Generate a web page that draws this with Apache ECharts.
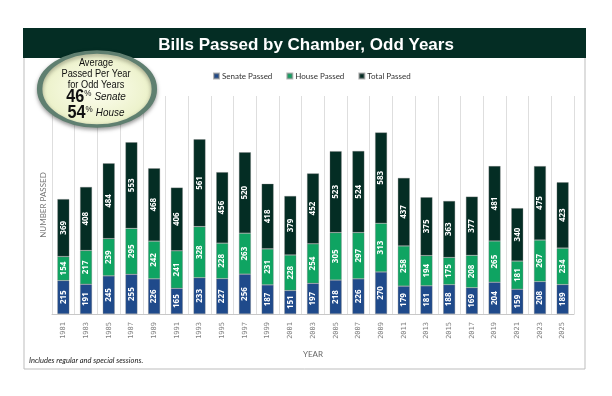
<!DOCTYPE html>
<html>
<head>
<meta charset="utf-8">
<script src="https://cdn.jsdelivr.net/npm/echarts@6/dist/echarts.min.js"></script>
<style>
  html, body { margin: 0; padding: 0; background: #fff; }
  #chart { width: 612px; height: 396px; }
</style>
</head>
<body>
<div id="chart"></div>
<script>
const years = ['1981', '1983', '1985', '1987', '1989', '1991', '1993', '1995', '1997', '1999', '2001', '2003',
  '2005', '2007', '2009', '2011', '2013', '2015', '2017', '2019', '2021', '2023', '2025'];
const senatePassed = [215, 191, 245, 255, 226, 165, 233, 227, 256, 187, 151, 197, 218, 226, 270, 179, 181, 188, 169, 204, 159, 208, 189];
const housePassed = [154, 217, 239, 295, 242, 241, 328, 228, 263, 231, 228, 254, 305, 297, 313, 258, 194, 175, 208, 265, 181, 267, 234];
const totalPassed = [369, 408, 484, 553, 468, 406, 561, 456, 520, 418, 379, 452, 523, 524, 583, 437, 375, 363, 377, 481, 340, 475, 423];
const senateShare = 46;
const houseShare = 54;

const DARK = '#042d24';
const BLUE = '#1f4a8b';
const GREEN = '#0fa462';

const chart = echarts.init(document.getElementById('chart'), null, { renderer: 'canvas' });

const barLabel = {
  show: true,
  position: 'inside',
  rotate: 90,
  color: '#fff',
  fontSize: 8,
  fontWeight: 'bold',
  fontFamily: 'Open Sans'
};

function barSeries(name, data, color) {
  return {
    name: name,
    type: 'bar',
    stack: 'all',
    barWidth: 12,
    data: data,
    itemStyle: { color: color, borderColor: 'rgba(120,120,120,0.55)', borderWidth: 0.6 },
    label: barLabel
  };
}

chart.setOption({
  animation: false,
  title: {
    text: 'Bills Passed by Chamber, Odd Years',
    left: 'center',
    top: 32,
    textStyle: { color: '#fff', fontSize: 17, fontWeight: 'bold', fontFamily: 'Liberation Sans' }
  },
  legend: {
    left: 208,
    top: 67,
    itemWidth: 5,
    itemHeight: 5,
    itemGap: 14,
    icon: 'rect',
    textStyle: { fontSize: 8, color: '#333', fontFamily: 'Lato', padding: [0, 0, 0, -2] },
    data: ['Senate Passed', 'House Passed', 'Total Passed']
  },
  grid: { left: 52, right: 38, top: 96, bottom: 82 },
  xAxis: {
    type: 'category',
    data: years,
    name: 'YEAR',
    nameLocation: 'middle',
    nameGap: 36,
    nameTextStyle: { fontSize: 8, color: '#666', fontFamily: 'Lato' },
    axisLine: { lineStyle: { color: '#c8c8c8' } },
    axisTick: { show: false },
    axisLabel: { rotate: 90, fontSize: 7, color: '#808080', fontFamily: 'DejaVu Sans Mono', margin: 8 },
    splitLine: { show: true, interval: 0, lineStyle: { color: '#dedede' } }
  },
  yAxis: {
    type: 'value',
    min: 0,
    max: 1400,
    name: 'NUMBER PASSED',
    nameLocation: 'middle',
    nameGap: 5,
    nameTextStyle: { fontSize: 8, color: '#777', fontFamily: 'Lato' },
    axisLine: { show: false },
    axisTick: { show: false },
    axisLabel: { show: false },
    splitLine: { show: false }
  },
  series: [
    barSeries('Senate Passed', senatePassed, BLUE),
    barSeries('House Passed', housePassed, GREEN),
    barSeries('Total Passed', totalPassed, DARK)
  ],
  graphic: [
    { type: 'rect', z: -10, shape: { x: 24, y: 57, width: 561, height: 312 }, style: { fill: '#fff', stroke: '#bdbdbd', lineWidth: 1 } },
    { type: 'rect', z: -5, shape: { x: 23, y: 28, width: 563, height: 30 }, style: { fill: DARK } },
    {
      type: 'text', left: 29, top: 357,
      style: { text: 'Includes regular and special sessions.', fontSize: 7.5, fontStyle: 'italic', fill: '#222', fontFamily: 'Lato' }
    },
    {
      type: 'circle', z: 20, x: 97, y: 89, scaleX: 1.55, scaleY: 1,
      shape: { cx: 0, cy: 0, r: 37 },
      style: {
        fill: { type: 'radial', x: 0.5, y: 0.5, r: 0.5, colorStops: [{ offset: 0, color: '#fdfef0' }, { offset: 1, color: '#eaf0c6' }] },
        stroke: '#5f7f70', lineWidth: 3.5,
        shadowBlur: 4, shadowColor: 'rgba(0,0,0,0.35)', shadowOffsetY: 2
      }
    },
    {
      type: 'text', z: 21, x: 96, y: 57, scaleX: 0.84,
      style: {
        text: 'Average\nPassed Per Year\nfor Odd Years',
        align: 'center', fontSize: 11, lineHeight: 11, fill: '#111', fontFamily: 'Liberation Sans'
      }
    },
    {
      type: 'text', z: 21, x: 96, y: 89, scaleX: 0.9,
      style: {
        text: '{n|' + senateShare + '}{p|%} {w|Senate}\n{n|' + houseShare + '}{p|%} {w|House}',
        align: 'center', fill: '#111',
        rich: {
          n: { fontSize: 18, fontWeight: 'bold', fontFamily: 'Liberation Sans', lineHeight: 16 },
          p: { fontSize: 9, fontFamily: 'Liberation Sans', verticalAlign: 'top', lineHeight: 16, padding: [0, 0, 6, 0] },
          w: { fontSize: 11, fontStyle: 'italic', fontFamily: 'Liberation Sans', lineHeight: 16 }
        }
      }
    }
  ]
});
</script>
</body>
</html>
